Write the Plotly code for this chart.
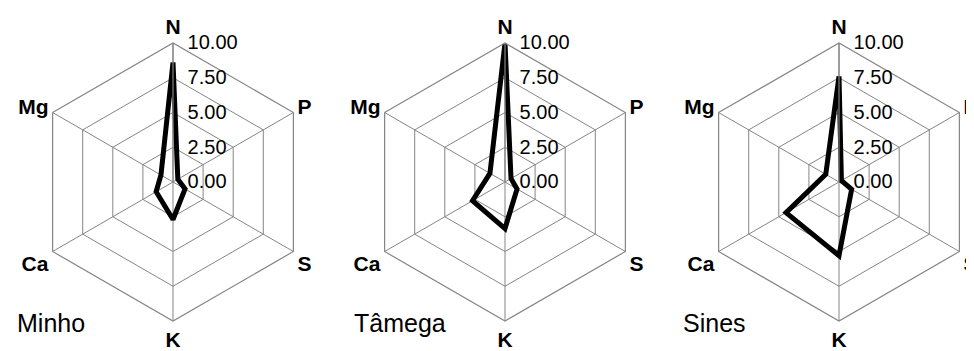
import plotly.graph_objects as go

categories = ["N", "P", "S", "K", "Ca", "Mg"]
regions = ["Minho", "Tâmega", "Sines"]
minho = [8.6, 0.4, 1.0, 2.7, 1.4, 1.0]
tamega = [10.0, 0.5, 1.0, 3.35, 2.7, 1.25]
sines = [7.6, 0.2, 1.05, 5.3, 4.4, 1.1]
radial_ticks = [0, 2.5, 5, 7.5, 10]

series = [minho, tamega, sines]

# the page body has an 8px margin, so figure coords = page coords - 8
OFF = 8
W, H = 974, 351
R = 139
cy = 182 - OFF
centers_x = [173 - OFF, 505 - OFF, 839 - OFF]
title_x = [16 - OFF, 353 - OFF, 682 - OFF]
title_y = 323 - OFF

fig = go.Figure()
for i, vals in enumerate(series):
    pid = "polar" if i == 0 else f"polar{i+1}"
    fig.add_trace(go.Scatterpolar(
        r=vals + [vals[0]], theta=categories + [categories[0]],
        mode="lines", line=dict(color="black", width=5),
        subplot=pid, showlegend=False, hoverinfo="skip"))
    cx = centers_x[i]
    x0 = max(0, (cx - R) / W)
    x1 = min(1, (cx + R) / W)
    polar = dict(
        domain=dict(x=[x0, x1], y=[(H - cy - R) / H, (H - cy + R) / H]),
        gridshape="linear",
        bgcolor="white",
        angularaxis=dict(
            categoryorder="array", categoryarray=categories,
            rotation=90, direction="clockwise",
            showline=True, linecolor="#858585", linewidth=1.2,
            gridcolor="#858585", gridwidth=1.2,
            ticks="",
            tickfont=dict(family="Liberation Sans, Arial", size=21, color="black", weight="bold"),
        ),
        radialaxis=dict(
            range=[0, 10], tickvals=radial_ticks, tickformat=".2f",
            angle=90, tickangle=90,
            showline=True, linecolor="#858585", linewidth=1.2,
            gridcolor="#858585", gridwidth=1.2,
            ticks="outside", ticklen=10, tickcolor="rgba(0,0,0,0)",
            tickfont=dict(family="Liberation Sans, Arial", size=20, color="black"),
        ),
    )
    fig.update_layout(**{pid: polar})
    fig.add_annotation(text=regions[i], x=title_x[i] / W, y=(H - title_y) / H,
                       xref="paper", yref="paper", xanchor="left", yanchor="middle",
                       showarrow=False, borderpad=0,
                       font=dict(family="Liberation Sans, Arial", size=25, color="black"))

fig.update_layout(width=W, height=H, margin=dict(l=0, r=0, t=0, b=0),
                  paper_bgcolor="white", plot_bgcolor="white")
fig.write_html("out.html")
